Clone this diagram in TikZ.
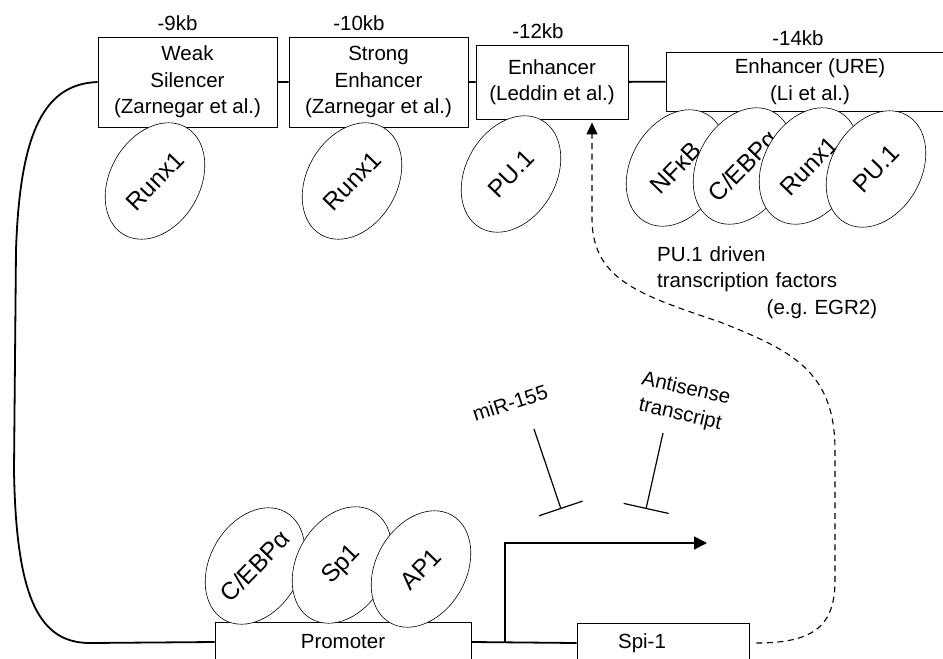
\documentclass[tikz,border=0pt]{standalone}
\usepackage{fontspec}
\setmainfont{Liberation Sans}
\usetikzlibrary{arrows.meta,shapes.geometric,positioning}
\tikzset{region/.style={draw,fill=white,line width=0.8pt,inner sep=0pt,align=center},
 tf/.style={ellipse,draw,fill=white,line width=0.6pt,inner sep=0pt,
  minimum width=124pt,minimum height=90pt,rotate=60,font=\fontsize{24.5}{28}\selectfont},
 kb/.style={inner sep=0pt},
 backbone/.style={line width=1.8pt},
 inhibit/.style={-{Bar[width=46pt,line width=1.2pt]},line width=1.2pt},
 feedback/.style={dash pattern=on 6pt off 4.5pt,line width=1.1pt,
  -{Triangle[length=12pt,width=11pt]}},
 every node/.style={font=\fontsize{20.5}{26.5}\selectfont}}
\newcommand{\tfname}[1]{\rotatebox{-14}{\makebox[0pt]{#1}}}

\begin{document}
\begin{tikzpicture}[x=1pt,y=1pt]
\useasboundingbox (0,0) rectangle (943,-659);
% upstream regulatory regions
\node[region,minimum width=179pt,minimum height=90pt] (weak) at (187.5,-82) {Weak\\Silencer\\(Zarnegar et al.)};
\node[region,minimum width=179pt,minimum height=90pt] (strong) at (378.5,-82) {Strong\\Enhancer\\(Zarnegar et al.)};
\node[region,minimum width=152pt,minimum height=74pt] (leddin) at (552,-82) {Enhancer\\(Leddin et al.)};
\node[region,minimum width=288pt,minimum height=59pt] (ure) at (810,-81.5) {Enhancer (URE)\\(Li et al.)};
\draw[backbone] (weak) -- (strong) (strong) -- (leddin) (leddin) -- (ure);
\node[kb,above=5.5pt of weak,xshift=-10pt] {-9kb};
\node[kb,above=5.5pt of strong,xshift=-19.5pt] {-10kb};
\node[kb,above=5.5pt of leddin,xshift=-14pt] {-12kb};
\node[kb,above=5.5pt of ure,xshift=-12pt] {-14kb};
% promoter and gene
\node[region,minimum width=256pt,minimum height=40pt] (prom) at (343,-642) {Promoter};
\node[region,minimum width=172pt,minimum height=40pt] (spi) at (663,-643) {Spi-1\hspace{42pt}};
\draw[backbone] (weak.west) .. controls (45,-84) and (20,-130) .. (16,-250) -- (14,-470)
 .. controls (16,-600) and (40,-643) .. (90,-643) -- (prom.west);
\draw[backbone] (prom.east) -- (spi.west);
\coordinate (tss) at (505,-642);
\coordinate (tssend) at (707,-543);
\draw[backbone,-{Triangle[length=13pt,width=13pt]}] (tss) |- (tssend);
% transcription factors
\node[tf] (runxa) at (155,-181) {\tfname{Runx1}};
\node[tf] (runxb) at (352,-181) {\tfname{Runx1}};
\node[tf] (pua) at (511,-174) {\tfname{PU.1}};
\node[tf] (nfkb) at (676,-168) {\tfname{NFκB}};
\node[tf] (cebpa) at (743,-166) {\tfname{C/EBPα}};
\node[tf] (runxc) at (809,-166) {\tfname{Runx1}};
\node[tf] (pub) at (876,-169) {\tfname{PU.1}};
\node[tf] (cebpb) at (255,-566) {\tfname{C/EBPα}};
\node[tf] (sp) at (342,-565) {\tfname{Sp1}};
\node[tf] (ap) at (421,-569) {\tfname{AP1}};
% repressors
\node[rotate=18] (mir) at (510,-403) {miR-155};
\node[rotate=-13,align=center] (anti) at (683,-402) {Antisense\\transcript};
\coordinate (mira) at (534,-429);
\coordinate (mirb) at (561,-509);
\coordinate (antia) at (663,-433);
\coordinate (antib) at (646,-509);
\draw[inhibit] (mira) -- (mirb);
\draw[inhibit] (antia) -- (antib);
% feedback
\node[text width=220pt,align=left,inner sep=0pt,anchor=north west] (egr) at (657,-246)
 {PU.1 driven\\transcription factors\\\makebox[\linewidth][r]{(e.g.\ EGR2)}};
\draw[feedback] ([xshift=7pt]spi.east) .. controls (815,-643) and (835,-625) .. (835,-580)
 -- (835,-450) .. controls (835,-370) and (790,-350) .. (720,-322)
 .. controls (640,-295) and (593,-280) .. (592,-220) -- ([xshift=40pt,yshift=-3pt]leddin.south);
\end{tikzpicture}
\end{document}
